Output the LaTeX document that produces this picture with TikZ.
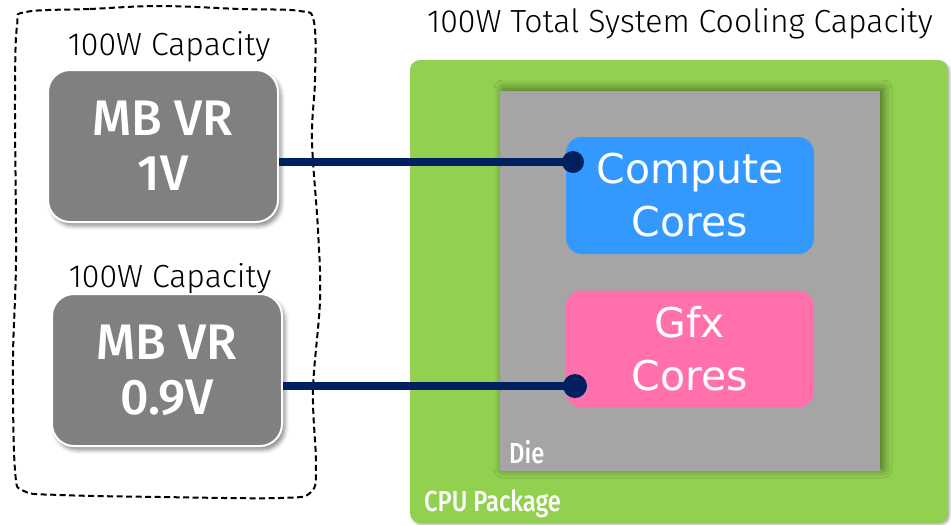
\documentclass[tikz,border=0pt]{standalone}
\usepackage{fontspec}
\setmainfont{Fira Sans}
\IfFontExistsTF{Fira Sans Light}{\newfontfamily\lightfont{Fira Sans Light}}{\newfontfamily\lightfont{Fira Sans}}
\IfFontExistsTF{Fira Sans Medium}{\newfontfamily\medfont{Fira Sans Medium}}{\newfontfamily\medfont{Fira Sans}}
\IfFontExistsTF{Fira Sans Medium}{\newfontfamily\condfont[FakeStretch=0.82]{Fira Sans Medium}}{\newfontfamily\condfont[FakeStretch=0.82]{Fira Sans}}
\newfontfamily\corefont{DejaVu Sans}
\usetikzlibrary{shadows.blur}

\definecolor{vrgray}{HTML}{808080}
\definecolor{pkggreen}{HTML}{92D050}
\definecolor{diegray}{HTML}{A5A5A5}
\definecolor{coreblue}{HTML}{3399FF}
\definecolor{gfxpink}{HTML}{FF70AC}
\definecolor{wirenavy}{HTML}{002060}

\begin{document}
\begin{tikzpicture}[x=1pt,y=-1pt,
  vrbox/.style={draw=white, line width=2pt, fill=vrgray, rounded corners=22pt,
    minimum width=230pt, minimum height=152pt, text=white, align=center,
    font=\medfont\fontsize{50}{55}\selectfont,
    blur shadow={shadow xshift=3pt, shadow yshift=-4pt, shadow blur radius=4pt, shadow opacity=45}},
  corebox/.style={rounded corners=16pt, minimum width=248pt, minimum height=117pt,
    text=white, align=center, font=\corefont\fontsize{41}{53}\selectfont},
  caplabel/.style={font=\lightfont\fontsize{32}{36}\selectfont, text=black, anchor=base},
  pkglabel/.style={font=\condfont\fontsize{29}{32}\selectfont, text=white, anchor=base west, inner sep=0pt},
  wire/.style={draw=wirenavy, line width=7.5pt},
  wiredot/.style={fill=wirenavy},
  budget/.style={draw=black, line width=2pt, dash pattern=on 6pt off 3.5pt}
]
\useasboundingbox (0,0) rectangle (951,525);

% power budget of the board regulators
\draw[budget] plot[smooth cycle, tension=0.6] coordinates {
  (26,12) (90,9) (160,6) (240,9) (300,11) (314,22) (315,80) (312,140)
  (318,230) (320,300) (313,390) (316,465) (311,492) (280,498) (160,497)
  (60,495) (24,491) (15,470) (13,360) (16,260) (15,100) (17,26)};

\node[caplabel] (cap1) at (169,55) {100W Capacity};
\node[caplabel] (cap2) at (170,287) {100W Capacity};
\node[caplabel] (title) at (680,32) {100W Total System Cooling Capacity};

% board voltage regulators
\node[vrbox] (vr1) at (163,146) {MB VR\\1V};
\node[vrbox] (vr2) at (167,370) {MB VR\\0.9V};

% package, die and the two rails
\node[fill=pkggreen, rounded corners=10pt, minimum width=538pt, minimum height=463pt,
  blur shadow={shadow xshift=2pt, shadow yshift=-2pt, shadow blur radius=2pt, shadow opacity=30}]
  (pkg) at (679,291.5) {};
\node[fill=diegray, minimum width=380pt, minimum height=380pt,
  blur shadow={shadow xshift=3pt, shadow yshift=2pt, shadow blur radius=9pt, shadow opacity=50}]
  (die) at (690,281) {};
\node[corebox, fill=coreblue] (cpu) at (690,195.5) {Compute\\Cores};
\node[corebox, fill=gfxpink] (gfx) at (690,349) {Gfx\\Cores};

\node[pkglabel] (dielbl) at (509,463) {Die};
\node[pkglabel] (pkglbl) at (424,511) {CPU Package};

% supply rails
\coordinate (c1) at (573,162);
\coordinate (c2) at (575,386);
\draw[wire] (vr1.east |- c1) -- (c1);
\draw[wire] (vr2.east |- c2) -- (c2);
\fill[wiredot] (c1) circle[radius=11];
\fill[wiredot] (c2) circle[radius=12];
\end{tikzpicture}
\end{document}
